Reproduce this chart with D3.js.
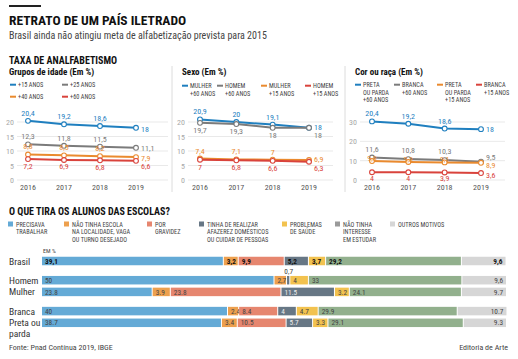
<!DOCTYPE html>
<html><head><meta charset="utf-8">
<script src="https://cdn.jsdelivr.net/npm/d3@7"></script>
<style>
html,body{margin:0;padding:0;background:#fff;}
svg{display:block;}
text{font-family:'Roboto Condensed','Liberation Sans Narrow','DejaVu Sans Condensed',Roboto,sans-serif;}
</style></head>
<body>
<script>
// ---------- DATA ----------
const years = [2016, 2017, 2018, 2019];

// Grupos de idade
const idade15 = [20.4, 19.2, 18.6, 18];
const idade25 = [12.3, 11.8, 11.5, 11.1];
const idade40 = [8.8, 8.5, 8.2, 7.9];
const idade60 = [7.2, 6.9, 6.8, 6.6];

// Sexo
const mulher60 = [20.9, 20, 19.1, 18];
const homem60 = [19.7, 19.3, 18, 18];
const mulher15 = [7.4, 7.1, 7, 6.9];
const homem15 = [7, 6.8, 6.6, 6.3];

// Cor ou raça (plotted positions; printed labels as in the original)
const preta60 = [30.3, 29.1, 26.6, 26.3];
const preta60Labels = ["20,4", "19,2", "18,6", "18"];
const branca60 = [11.6, 10.8, 10.3, 9.5];
const preta15 = [9.8, 9.3, 9.1, 8.9];
const branca15 = [4, 4, 3.9, 3.6];

const ticksIdade = [0, 5, 10, 15, 20];
const ticksSexo = [0, 5, 10, 15, 20];
const ticksCor = [0, 10, 20, 30];

// O que tira os alunos das escolas
const grupos = ["Brasil", "Homem", "Mulher", "Branca", "Preta ou parda"];
const motivos = ["PRECISAVA TRABALHAR", "NÃO TINHA ESCOLA NA LOCALIDADE, VAGA OU TURNO DESEJADO",
  "POR GRAVIDEZ", "TINHA DE REALIZAR AFAZEREZ DOMÉSTICOS OU CUIDAR DE PESSOAS",
  "PROBLEMAS DE SAÚDE", "NÃO TINHA INTERESSE EM ESTUDAR", "OUTROS MOTIVOS"];
const trabalhar   = [39.1, 50, 23.8, 40, 38.7];
const semEscola   = [3.2, 2.7, 3.9, 2.4, 3.4];
const gravidez    = [9.9, 0, 23.8, 8.4, 10.5];
const afazeres    = [5.2, 0.7, 11.5, 4, 5.7];
const saude       = [3.7, 4, 3.2, 4.7, 3.3];
const desinteresse= [29.2, 33, 24.1, 29.9, 29.1];
const outros      = [9.6, 9.6, 9.7, 10.7, 9.3];
const decimalSep  = [",", ",", ".", ".", "."];

// ---------- SVG ----------
const W = 518, H = 359;
const svg = d3.select("body").append("svg").attr("width", W).attr("height", H);

const C = {
  blue: "#1f7fbf", gray: "#7b7b7b", orange: "#ea8a2e", red: "#d9433c",
  grid: "#e3e3e3", tick: "#a8a8a8", text: "#333"
};

// Header
svg.append("rect").attr("x", 9).attr("y", 5).attr("width", 32).attr("height", 2).attr("fill", "#222");
svg.append("text").attr("x", 9).attr("y", 25).attr("font-size", 13.5).attr("font-weight", "bold")
  .attr("fill", "#111").text("RETRATO DE UM PAÍS ILETRADO");
svg.append("text").attr("x", 9).attr("y", 39).attr("font-size", 10).attr("fill", "#444")
  .text("Brasil ainda não atingiu meta de alfabetização prevista para 2015");
svg.append("text").attr("x", 9).attr("y", 64).attr("font-size", 10).attr("font-weight", "bold")
  .attr("fill", "#111").text("TAXA DE ANALFABETISMO");

// Dividers
[172, 345].forEach(x => svg.append("line").attr("x1", x).attr("x2", x).attr("y1", 66).attr("y2", 192)
  .attr("stroke", "#dcdcdc").attr("stroke-width", 1));

const fmt = v => String(v).replace(".", ",");

const panels = [
  {
    title: "Grupos de idade (Em %)", tx: 9, ty: 75, xr: [28, 136], gx: [17, 168], tickX: 14,
    ymax: 20, ticks: ticksIdade,
    series: [
      { name: ["+15 ANOS"], color: C.blue, values: idade15, dy: -5, dyLast: 4, lx: 10, ly: 87 },
      { name: ["+25 ANOS"], color: C.gray, values: idade25, dy: -5, dyLast: 3, lx: 62, ly: 87 },
      { name: ["+40 ANOS"], color: C.orange, values: idade40, dy: -5, dyLast: 3.5, lx: 10, ly: 99 },
      { name: ["+60 ANOS"], color: C.red, values: idade60, dy: 9.5, dyLast: 8.5, lx: 62, ly: 99 }
    ]
  },
  {
    title: "Sexo (Em %)", tx: 182, ty: 75, xr: [200, 309], gx: [188, 333], tickX: 185,
    ymax: 20, ticks: ticksSexo,
    series: [
      { name: ["MULHER", "+60 ANOS"], color: C.blue, values: mulher60, dy: -5, dyLast: 2, lx: 182, ly: 88 },
      { name: ["HOMEM", "+60 ANOS"], color: C.gray, values: homem60, dy: 10, dyLast: 10, lx: 217, ly: 88 },
      { name: ["MULHER", "+15 ANOS"], color: C.orange, values: mulher15, dy: -5, dyLast: 2, lx: 261, ly: 88 },
      { name: ["HOMEM", "+15 ANOS"], color: C.red, values: homem15, dy: 10, dyLast: 9.5, lx: 305, ly: 88 }
    ]
  },
  {
    title: "Cor ou raça (Em %)", tx: 355, ty: 75, xr: [372, 481], gx: [360, 505], tickX: 357,
    ymax: 30, ticks: ticksCor,
    series: [
      { name: ["PRETA", "OU PARDA", "+60 ANOS"], color: C.blue, values: preta60, labels: preta60Labels, dy: -5, dyLast: 3, lx: 355, ly: 87 },
      { name: ["BRANCA", "+60 ANOS"], color: C.gray, values: branca60, dy: -6, dyLast: -2, lx: 394, ly: 87 },
      { name: ["PRETA", "OU PARDA", "+15 ANOS"], color: C.orange, values: preta15, dy: 0, dyLast: 5, lx: 437, ly: 87 },
      { name: ["BRANCA", "+15 ANOS"], color: C.red, values: branca15, dy: 8.5, dyLast: 5, lx: 476, ly: 87 }
    ]
  }
];

panels.forEach(p => {
  const g = svg.append("g");
  const x = d3.scalePoint().domain(years).range(p.xr);
  const y = d3.scaleLinear().domain([0, p.ymax]).range([180, 122]);

  g.append("text").attr("x", p.tx).attr("y", p.ty).attr("font-size", 9).attr("font-weight", "bold")
    .attr("fill", "#111").text(p.title);

  // legend
  p.series.forEach(s => {
    g.append("line").attr("x1", s.lx).attr("x2", s.lx + 6).attr("y1", s.ly - 2.3).attr("y2", s.ly - 2.3)
      .attr("stroke", s.color).attr("stroke-width", 2);
    const t = g.append("text").attr("x", s.lx + 8).attr("y", s.ly).attr("font-size", 6.3).attr("fill", "#444");
    s.name.forEach((n, i) => t.append("tspan").attr("x", s.lx + 8).attr("dy", i ? 7.5 : 0).text(n));
  });

  // grid + ticks
  p.ticks.forEach(t => {
    g.append("line").attr("x1", p.gx[0]).attr("x2", p.gx[1]).attr("y1", y(t)).attr("y2", y(t))
      .attr("stroke", C.grid).attr("stroke-width", 0.8);
    g.append("text").attr("x", p.tickX).attr("y", y(t) + 3).attr("text-anchor", "end")
      .attr("font-size", 8).attr("fill", C.tick).text(t);
  });
  years.forEach(yr => g.append("text").attr("x", x(yr)).attr("y", 190).attr("text-anchor", "middle")
    .attr("font-size", 8).attr("fill", "#555").text(yr));

  // lines
  const line = d3.line().x((d, i) => x(years[i])).y(d => y(d));
  p.series.forEach(s => {
    g.append("path").datum(s.values).attr("d", line).attr("fill", "none")
      .attr("stroke", s.color).attr("stroke-width", 2);
  });
  p.series.forEach(s => {
    g.selectAll(null).data(s.values).enter().append("circle")
      .attr("cx", (d, i) => x(years[i])).attr("cy", d => y(d)).attr("r", 2.4)
      .attr("fill", "#fff").attr("stroke", s.color).attr("stroke-width", 1.1);
  });
  p.series.forEach(s => {
    s.values.forEach((v, i) => {
      const last = i === years.length - 1;
      g.append("text")
        .attr("x", last ? x(years[i]) + 5 : x(years[i]))
        .attr("y", y(v) + (last ? s.dyLast : s.dy))
        .attr("text-anchor", last ? "start" : "middle")
        .attr("font-size", 8).attr("fill", s.color)
        .text(s.labels ? s.labels[i] : fmt(v));
    });
  });
});

// ---------- Bars ----------
svg.append("text").attr("x", 9).attr("y", 215).attr("font-size", 10).attr("font-weight", "bold")
  .attr("fill", "#111").text("O QUE TIRA OS ALUNOS DAS ESCOLAS?");

const barColors = ["#64aad6", "#eda04e", "#e6866f", "#677785", "#f2c24f", "#92b08d", "#d6d6d6"];
const legendColors = ["#64aad6", "#eda04e", "#e6866f", "#677785", "#f2c24f", "#9a9a9a", "#d6d6d6"];
const legendLines = [["PRECISAVA", "TRABALHAR"], ["NÃO TINHA ESCOLA", "NA LOCALIDADE, VAGA", "OU TURNO DESEJADO"],
  ["POR", "GRAVIDEZ"], ["TINHA DE REALIZAR", "AFAZEREZ DOMÉSTICOS", "OU CUIDAR DE PESSOAS"],
  ["PROBLEMAS", "DE SAÚDE"], ["NÃO TINHA", "INTERESSE", "EM ESTUDAR"], ["OUTROS MOTIVOS"]];
const legendX = [8, 64, 147, 199, 282, 335, 390];
motivos.forEach((m, i) => {
  svg.append("rect").attr("x", legendX[i]).attr("y", 221.5).attr("width", 5).attr("height", 5).attr("fill", legendColors[i]);
  const t = svg.append("text").attr("x", legendX[i] + 8).attr("y", 226.5).attr("font-size", 6.3).attr("fill", "#444");
  legendLines[i].forEach((n, j) => t.append("tspan").attr("x", legendX[i] + 8).attr("dy", j ? 7.8 : 0).text(n));
});
svg.append("text").attr("x", 43).attr("y", 252.5).attr("font-size", 6).attr("fill", "#444").text("EM %");

const seriesVals = [trabalhar, semEscola, gravidez, afazeres, saude, desinteresse, outros];
const xb = d3.scaleLinear().domain([0, 100]).range([42, 507]);
const groupIdx = [0, 1, 1, 2, 2];
const step = 11.7, gap = 7.5, bh = 8.5;
const yc = i => 261 + i * step + groupIdx[i] * gap;

grupos.forEach((gname, gi) => {
  const parts = gname === "Preta ou parda" ? ["Preta ou", "parda"] : [gname];
  const t = svg.append("text").attr("x", 9).attr("y", yc(gi) + 3.5).attr("font-size", 9.5).attr("fill", "#333");
  parts.forEach((p, j) => t.append("tspan").attr("x", 9).attr("dy", j ? 11 : 0).text(p));

  let cum = 0;
  const bold = gi === 0;
  seriesVals.forEach((arr, si) => {
    const v = arr[gi];
    const x0 = xb(cum), x1 = xb(cum + v);
    cum += v;
    if (v <= 0) return;
    svg.append("rect").attr("x", x0).attr("y", yc(gi) - bh / 2).attr("width", Math.max(0, x1 - x0 - 1))
      .attr("height", bh).attr("fill", barColors[si]);
    const label = String(v).replace(".", decimalSep[gi]);
    const isLast = si === seriesVals.length - 1;
    const narrow = (x1 - x0) < 8;
    const lab = svg.append("text").attr("font-size", 7.3)
      .attr("font-weight", bold ? "bold" : "normal")
      .attr("fill", bold ? "#111" : (si === 3 ? "#eee" : "#444"));
    if (narrow) {
      lab.attr("x", (x0 + x1) / 2).attr("y", yc(gi) - bh / 2 - 2).attr("text-anchor", "middle").attr("fill", "#444");
    } else if (isLast) {
      lab.attr("x", x1 - 4).attr("y", yc(gi) + 2.6).attr("text-anchor", "end");
    } else {
      lab.attr("x", x0 + 3).attr("y", yc(gi) + 2.6);
    }
    lab.text(label);
  });
});

svg.append("text").attr("x", 9).attr("y", 350).attr("font-size", 8).attr("fill", "#444").text("Fonte: Pnad Contínua 2019, IBGE");
svg.append("text").attr("x", 508).attr("y", 350).attr("text-anchor", "end").attr("font-size", 8).attr("fill", "#444").text("Editoria de Arte");
</script>
</body></html>
